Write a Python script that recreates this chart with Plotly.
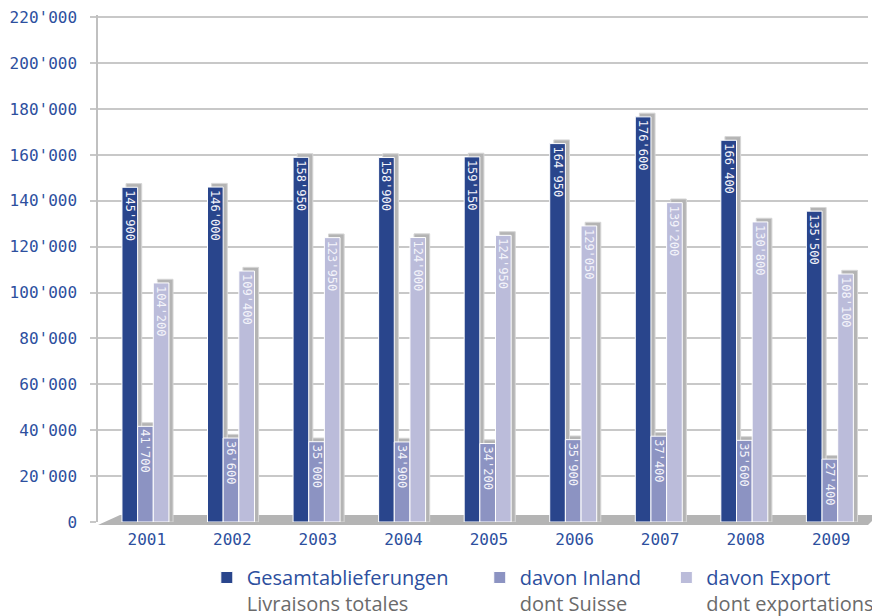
import plotly.graph_objects as go

years = ["2001", "2002", "2003", "2004", "2005", "2006", "2007", "2008", "2009"]
total = [145900, 146000, 158950, 158900, 159150, 164950, 176600, 166400, 135500]
inland = [41700, 36600, 35000, 34900, 34200, 35900, 37400, 35600, 27400]
export = [104200, 109400, 123950, 124000, 124950, 129050, 139200, 130800, 108100]
y_ticks = list(range(0, 220001, 20000))

names_de = ["Gesamtablieferungen", "davon Inland", "davon Export"]
names_fr = ["Livraisons totales", "dont Suisse", "dont exportations"]
values = [total, inland, export]
colors = ["#29458C", "#8C93C2", "#BBBCDA"]
offsets = [-0.29, -0.107, 0.076]
legend_x = [0.228, 0.541, 0.755]

BAR_W = 0.183
DEPTH_X = 0.048
DEPTH_Y = 1600
BLUE = "#2D4F9E"
LCD = "DejaVu Sans Mono"

fig = go.Figure()

# 3D side/top faces (gray shadow)
for vals, off in zip(values, offsets):
    fig.add_trace(go.Bar(
        x=years, y=[v + DEPTH_Y for v in vals],
        offset=off + DEPTH_X, width=BAR_W,
        marker=dict(color="#B4B4B4", line=dict(color="#D6D6D6", width=1)),
        showlegend=False, hoverinfo="skip",
    ))

for i, (vals, off, col) in enumerate(zip(values, offsets, colors)):
    fig.add_trace(go.Bar(
        x=years, y=vals, offset=off, width=BAR_W,
        name=f"{names_de[i]}<br><span style='color:#6B6B6B'>{names_fr[i]}</span>",
        marker=dict(color=col, line=dict(color="white", width=1)),
        texttemplate="%{y:,.0f}", textposition="inside",
        insidetextanchor="end", textangle=90,
        textfont=dict(family=LCD, size=12, color="#F4F4FA"),
        legend="legend" if i == 0 else f"legend{i+1}",
        hoverinfo="skip",
    ))

legend_common = dict(
    orientation="h", xref="container", yref="container",
    y=0.0954, yanchor="top", xanchor="left", valign="top",
    font=dict(family="Open Sans", size=20, color=BLUE),
    bgcolor="rgba(0,0,0,0)", itemclick=False, itemdoubleclick=False,
)
fig.update_layout(
    legend=dict(x=legend_x[0], **legend_common),
    legend2=dict(x=legend_x[1], **legend_common),
    legend3=dict(x=legend_x[2], **legend_common),
)

fig.update_layout(
    width=872, height=608,
    margin=dict(l=90, r=12, t=7, b=94, autoexpand=False),
    paper_bgcolor="white", plot_bgcolor="white",
    barmode="overlay",
    separators=".'",
    uniformtext=dict(minsize=12, mode="show"),
    showlegend=True,
    xaxis=dict(
        type="category", range=[-0.57, 8.43], automargin=False,
        showgrid=False, zeroline=False, showline=False,
        ticks="", ticklabelstandoff=6,
        tickfont=dict(family=LCD, size=16, color=BLUE),
    ),
    yaxis=dict(
        range=[0, 221000], tickvals=y_ticks, tickformat=",d", automargin=False,
        ticklabeloverflow="allow",
        showgrid=True, gridcolor="#C8C8C8", gridwidth=1.5,
        zeroline=False, showline=True, linecolor="#C0C0C0", linewidth=1.5,
        ticks="outside", ticklen=6, tickcolor="#C8C8C8", tickwidth=1.5,
        ticklabelstandoff=10,
        tickfont=dict(family=LCD, size=16, color=BLUE),
    ),
    shapes=[dict(
        type="path", xref="paper", yref="paper", layer="between",
        path="M 0,-0.006 L 0.0286,0.0139 L 1.013,0.0139 L 1.0,-0.006 Z",
        fillcolor="#B4B4B4", line=dict(width=0),
    )],
)

fig.write_html("out.html")
